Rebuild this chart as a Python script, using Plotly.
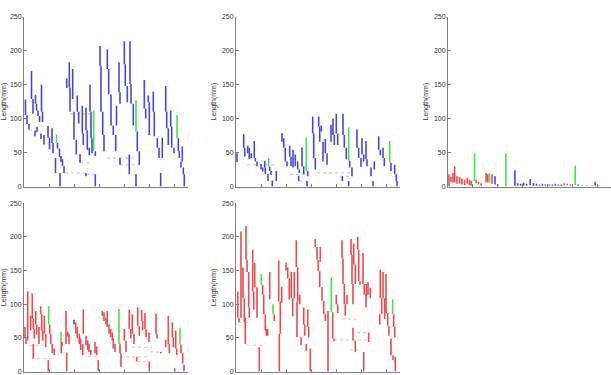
import plotly.graph_objects as go

# segments: (x position, top length, bottom length, colour key)
SEG1 = [
    (1.5,128,105,'b'),(3,105,92,'b'),(5,92,84,'b'),(7.5,170,129,'b'),(9,129,107,'b'),(11.5,135,122,'b'),
    (12.5,122,112,'b'),(14,112,104,'b'),(15.5,104,95,'b'),(17.5,150,110,'b'),(18.5,110,95,'b'),(13,88,80,'b'),
    (11,82,74,'b'),(17,78,70,'b'),(20,76,62,'b'),(24,89,72,'b'),(25.5,72,55,'b'),(28,86,64,'b'),(29,64,49,'b'),
    (32.5,77,64,'g'),(33.5,64,56,'b'),(35.5,56,43,'b'),(37,45,36,'b'),(31.5,42,20,'b'),(38.5,40,30,'b'),
    (40,30,20,'b'),(36,20,0,'b'),
    (42.7,159,145,'b'),(45.3,183,146,'b'),(46,146,110,'b'),(48.7,173,129,'b'),(50,110,69,'b'),(52.3,69,47,'b'),
    (53.3,134,110,'b'),(54.7,110,93,'b'),(56,48,35,'b'),(58.3,119,78,'b'),(59.3,78,61,'b'),(62,116,83,'b'),
    (63.3,83,54,'b'),(65.3,57,46,'b'),(66,150,110,'b'),(67,110,71,'b'),(68,71,49,'b'),(69.7,112,52,'g'),
    (71.3,52,45,'b'),(62,20,15,'b'),(71.3,18,0,'b'),
    (76,207,177,'b'),(77,177,110,'b'),(78.7,110,76,'b'),(80,76,52,'b'),(83.3,202,173,'b'),(84.7,173,136,'b'),
    (87,136,90,'b'),(89.3,90,76,'b'),(91.7,76,52,'b'),(92.5,119,90,'b'),(95,183,139,'b'),(96,139,122,'b'),
    (100.3,214,180,'b'),(101.3,180,148,'b'),(103.3,148,124,'b'),(106,214,151,'b'),(107,151,122,'b'),
    (109.3,122,90,'b'),(112,127,81,'g'),(113.3,81,52,'b'),(115.3,52,32,'b'),(105.3,47,18,'b'),(112,18,0,'b'),
    (96,42,32,'b'),
    (120.3,157,115,'b'),(121.7,115,100,'b'),(124.3,134,124,'b'),(125.3,124,76,'b'),(129.3,140,110,'b'),
    (130.3,110,74,'b'),(133.3,71,57,'b'),(135,57,42,'b'),(138.3,72,42,'b'),(141.7,148,110,'b'),
    (142.7,110,86,'b'),(144.3,86,61,'b'),(146.7,112,88,'b'),(147.7,88,57,'b'),(150,57,49,'b'),
    (153,105,71,'g'),(154.3,71,52,'b'),(155.3,52,42,'b'),(158.3,59,37,'b'),(157,37,28,'b'),(159.3,28,18,'b'),
    (160.3,18,0,'b'),(136.7,20,0,'b'),
]

SEG2 = [
    (1,49,36,'b'),(7.7,77,57,'b'),(8.7,57,44,'b'),(11.7,60,49,'b'),(13.3,57,40,'b'),(15.3,49,42,'b'),
    (18.3,67,42,'b'),(19.3,42,37,'b'),(21,37,30,'b'),(25,33,25,'b'),(26.7,28,22,'b'),(28.7,38,28,'b'),
    (29.3,28,18,'b'),(32.7,42,29,'g'),(33.7,29,23,'b'),(35,23,17,'b'),(32,19,8,'b'),(40.3,23,8,'b'),(36.3,9,0,'b'),
    (46,79,66,'b'),(47.7,71,57,'b'),(49.3,57,37,'b'),(51,37,30,'b'),(53.7,60,44,'b'),(55,44,30,'b'),
    (57,54,28,'b'),(59.3,47,30,'b'),(61.7,37,25,'b'),(63.3,25,20,'b'),(66,58,30,'b'),(67.7,30,18,'b'),
    (70.3,72,23,'g'),(71.7,23,15,'b'),(62.7,16,8,'b'),(71,8,0,'b'),
    (76.7,103,78,'b'),(77.7,78,42,'b'),(79.3,42,25,'b'),(82.7,103,88,'b'),(83.7,88,66,'b'),(85.3,90,81,'b'),
    (87,66,37,'b'),(89.3,70,49,'b'),(91,49,32,'b'),(95,91,66,'b'),(97,100,76,'b'),(98.3,76,61,'b'),
    (100.3,107,78,'b'),(101.7,78,61,'b'),(107,107,76,'b'),(108.3,76,57,'b'),(110.3,57,40,'b'),
    (112.7,87,38,'g'),(113.7,38,28,'b'),(116,28,15,'b'),(106.3,15,8,'b'),(112.7,8,0,'b'),
    (121,84,57,'b'),(122.7,57,42,'b'),(125,42,29,'b'),(126,71,47,'b'),(127.7,47,37,'b'),(130,67,40,'b'),
    (131,40,30,'b'),(135,28,15,'b'),(138.3,37,25,'b'),(142.7,74,54,'b'),(144.3,54,46,'b'),(147,57,42,'b'),
    (148.3,42,30,'b'),(153.7,67,35,'g'),(155,35,23,'b'),(158.7,32,18,'b'),(160.3,18,8,'b'),(161,8,0,'b'),
    (137,8,0,'b'),
]

SEG3 = [
    (1,18,0,'r'),(3,14,7,'r'),(5,20,6,'r'),(6.7,30,6,'r'),(9,15,4,'r'),(11.7,14,4,'r'),(14,12,3,'r'),
    (16.7,10,2,'r'),(19.3,13,4,'r'),(21.7,10,2,'r'),(23.3,8,1,'r'),(26.7,49,8,'g'),(28.3,10,5,'r'),
    (30.7,7,3,'r'),(33.3,5,1,'r'),(38.3,20,6,'r'),(40,18,6,'r'),(41.7,20,6,'g'),(44.3,18,4,'r'),
    (47.3,15,3,'b'),(50,3,0,'r'),(58.3,49,0,'g'),(67.3,24,1,'b'),(70,5,1,'b'),(73,4,1,'b'),(76,6,1,'b'),
    (79,4,1,'b'),(82.7,11,2,'b'),(86,5,1,'b'),(89,4,1,'b'),(92,3,1,'b'),(95,4,1,'b'),(98,3,1,'b'),
    (102,3,1,'b'),(105,3,1,'b'),(108,4,1,'b'),(111,3,1,'b'),(114,3,1,'b'),(117,5,2,'r'),(120,4,2,'r'),
    (123,3,1,'r'),(128,31,2,'g'),(131,3,1,'b'),(135,2,1,'r'),(140,2,1,'r'),(145,2,1,'b'),(148,7,1,'b'),
    (152,2,1,'b'),
]

SEG4 = [
    (1,66,49,'r'),(2,49,41,'r'),(3.7,119,46,'r'),(6.7,83,61,'r'),(8.3,116,78,'r'),(9.3,78,63,'r'),
    (10.3,63,49,'r'),(11.7,90,70,'r'),(12.7,70,55,'r'),(15,66,41,'r'),(16.7,97,85,'r'),(17.7,85,61,'r'),
    (18.7,61,46,'r'),(20.3,83,56,'r'),(21.7,56,36,'r'),(24.7,97,70,'g'),(25.7,70,56,'r'),(26.7,56,41,'r'),
    (28.3,41,27,'r'),(30.3,34,24,'r'),(9.3,41,19,'r'),(24.3,17,0,'r'),(37,59,44,'g'),(38,44,38,'r'),
    (37.3,44,27,'r'),(42,90,41,'r'),(43.7,59,52,'r'),(45,56,41,'r'),(42.7,28,0,'r'),(50,77,70,'b'),
    (51.7,73,56,'r'),(53.3,66,49,'r'),(55.3,56,41,'r'),(56.7,49,32,'r'),(59.3,92,56,'r'),(58.7,41,24,'r'),
    (62,53,39,'r'),(63.7,46,32,'r'),(65,41,29,'r'),(66.7,32,24,'r'),(71,44,27,'r'),(72.7,37,24,'r'),
    (74.3,17,0,'r'),
    (78.3,90,83,'r'),(80,88,75,'r'),(82,80,70,'r'),(83.3,90,66,'r'),(85,70,56,'r'),(86.7,63,51,'r'),
    (88.3,58,46,'r'),(89.3,49,34,'r'),(91,41,29,'r'),(95,93,41,'g'),(96,41,27,'r'),(97,27,7,'r'),
    (100.3,63,46,'r'),(102,46,29,'r'),(105.3,92,63,'r'),(106.7,63,49,'r'),(108.3,85,56,'r'),(110,56,41,'r'),
    (113.7,95,68,'r'),(115.3,68,53,'r'),(117.7,91,75,'r'),(118.7,75,61,'r'),(121,87,63,'r'),(122,63,51,'r'),
    (125,58,44,'r'),(125.3,15,0,'r'),(112.7,22,15,'r'),(132,86,56,'r'),(133,56,49,'r'),(136.7,29,27,'b'),
    (141.7,47,36,'r'),(144.3,83,41,'r'),(145.3,41,27,'r'),(148.3,73,51,'r'),(149.3,51,36,'r'),
    (151.7,61,34,'r'),(152.7,34,24,'r'),(156,65,40,'g'),(157,40,27,'r'),(158.7,27,12,'r'),(160,10,0,'r'),
    (150.7,5,0,'r'),
]

SEG5 = [
    (1.7,119,80,'r'),(3,80,73,'r'),(5,208,80,'r'),(7,154,109,'r'),(8.3,109,73,'r'),(10,216,166,'r'),
    (11,166,148,'r'),(12.7,148,95,'r'),(13.3,95,80,'r'),(9.3,80,41,'r'),(16.7,181,119,'r'),(17.7,119,92,'r'),
    (18.7,161,125,'r'),(21,125,80,'r'),(25.3,145,129,'g'),(26.7,129,114,'r'),(27.7,114,85,'r'),
    (29.3,85,61,'r'),(30.3,63,53,'r'),(31.7,63,53,'r'),(23.3,36,0,'r'),(33.7,148,107,'r'),(37,100,85,'g'),
    (38.3,85,75,'r'),(42.7,165,104,'r'),(44.3,104,56,'r'),(45.7,126,102,'r'),(43.3,56,0,'r'),
    (50,162,150,'r'),(51.7,155,138,'r'),(53.3,138,107,'r'),(55.3,148,109,'r'),(56.7,109,82,'r'),
    (58.3,148,109,'r'),(60.3,195,155,'r'),(61.7,155,104,'r'),(63.7,114,100,'r'),(61,104,51,'r'),
    (65,51,39,'r'),(67.7,95,70,'r'),(68.7,70,53,'r'),(71.7,92,66,'r'),(72.7,66,51,'r'),(70.3,41,31,'r'),
    (74.3,34,0,'r'),
    (79.3,197,185,'r'),(81,185,166,'r'),(82.3,166,149,'r'),(83.7,149,125,'r'),(84.3,185,163,'r'),
    (86,125,105,'r'),(87.7,105,85,'r'),(89.3,85,75,'r'),(92,90,0,'r'),(95.3,140,88,'g'),(96.7,88,49,'r'),
    (98,49,45,'r'),(100.3,114,100,'r'),(101.7,100,87,'r'),(106,195,168,'r'),(107,168,130,'r'),
    (108.3,130,100,'r'),(109.3,100,83,'r'),(111,114,100,'r'),(115,197,173,'r'),(116,173,130,'r'),
    (117,130,100,'r'),(117.7,190,159,'r'),(119.3,159,130,'r'),(121.7,200,181,'r'),(122.7,181,134,'r'),
    (124,134,129,'r'),(127,176,130,'r'),(128.3,130,114,'r'),(130.3,130,112,'r'),(132,133,114,'r'),
    (134.3,124,109,'r'),(130,114,95,'r'),(117,65,46,'r'),(119.3,46,29,'r'),(127.7,29,0,'r'),
    (132.7,58,44,'r'),(144.3,151,109,'r'),(145.7,109,85,'r'),(147,148,109,'r'),(148.7,109,78,'r'),
    (143.7,85,70,'r'),(150,145,87,'r'),(151.7,87,68,'r'),(153,68,53,'r'),(156.7,107,85,'g'),
    (157.7,85,66,'r'),(158.7,66,51,'r'),(155,49,24,'r'),(157,24,17,'r'),(159.3,22,0,'r'),
]

# faint dotted links: (x start, x end, length, colour key)
LINK1 = [(5,16,83,'b'),(56,68,35,'b'),(83,109,42,'b'),(96,116,32,'b'),(41,61,20,'b'),(63,71,18,'b'),(46,66,107,'b')]
LINK2 = [(11,38,32,'b'),(54,71,18,'b'),(63,71,8,'b'),(81,114,20,'b'),(104,116,15,'b')]
LINK3 = []
LINK4 = [(5,21,39,'r'),(13,29,19,'r'),(64,74,22,'r'),(108,128,36,'r'),(96,123,22,'r'),(113,123,15,'r'),(126,139,29,'r'),(119,133,56,'r')]
LINK5 = [(3,16,73,'r'),(11,26,39,'r'),(106,121,78,'r'),(98,131,47,'r'),(114,126,32,'r'),(121,131,58,'r')]

COLORS = {'b': '#4646e0', 'r': '#ec4a4e', 'g': '#44e444'}
LINKCOL = {'b': 'rgba(90,90,200,0.4)', 'r': 'rgba(220,90,90,0.4)'}

Y_TICKS = [0, 50, 100, 150, 200, 250]
X_TICKS = [25, 50, 75, 100, 125, 150]
Y_TITLE = "Length(mm)"

panels = [
    (SEG1, LINK1, 'x', 'y', [24/611, 188/611], [1-186/375, 1-13/375]),
    (SEG2, LINK2, 'x2', 'y2', [236/611, 400/611], [1-186/375, 1-13/375]),
    (SEG3, LINK3, 'x3', 'y3', [448/611, 1.0], [1-186/375, 1-13/375]),
    (SEG4, LINK4, 'x4', 'y4', [24/611, 188/611], [1-374.5/375, 1-203/375]),
    (SEG5, LINK5, 'x5', 'y5', [236/611, 400/611], [1-374.5/375, 1-203/375]),
]

fig = go.Figure()
layout = dict(
    width=611, height=375, margin=dict(l=0, r=0, t=0, b=0),
    paper_bgcolor='white', plot_bgcolor='white', showlegend=False,
    font=dict(family='Liberation Sans, Arial, sans-serif', size=7, color='#333'),
)

for i, (segs, links, xa, ya, xd, yd) in enumerate(panels):
    for key in ['r', 'b', 'g']:
        xs, ys = [], []
        for (x, top, bot, c) in segs:
            if c == key:
                xs += [x, x, None]
                ys += [top, bot, None]
        if xs:
            fig.add_trace(go.Scatter(x=xs, y=ys, mode='lines', xaxis=xa, yaxis=ya,
                                     line=dict(color=COLORS[key], width=1.6), hoverinfo='skip'))
    for key in ['r', 'b']:
        xs, ys = [], []
        for (x0, x1, yv, c) in links:
            if c == key:
                xs += [x0, x1, None]
                ys += [yv, yv, None]
        if xs:
            fig.add_trace(go.Scatter(x=xs, y=ys, mode='lines', xaxis=xa, yaxis=ya,
                                     line=dict(color=LINKCOL[key], width=1, dash='dot'), hoverinfo='skip'))
    n = '' if i == 0 else str(i + 1)
    layout['xaxis' + n] = dict(domain=xd, range=[0, 164], anchor=ya, showgrid=False, zeroline=False,
                               showline=True, linecolor='#808080', linewidth=1, ticks='inside', ticklen=3,
                               tickcolor='#808080', tickvals=X_TICKS, showticklabels=False)
    layout['yaxis' + n] = dict(domain=yd, range=[0, 250], anchor=xa, showgrid=False, zeroline=False,
                               showline=True, linecolor='#808080', linewidth=1, ticks='inside', ticklen=3,
                               tickcolor='#808080', tickvals=Y_TICKS, tickfont=dict(size=7, color='#333'),
                               title=dict(text=Y_TITLE, font=dict(size=7, color='#333'), standoff=4))

fig.update_layout(**layout)
fig.write_html("out.html")
